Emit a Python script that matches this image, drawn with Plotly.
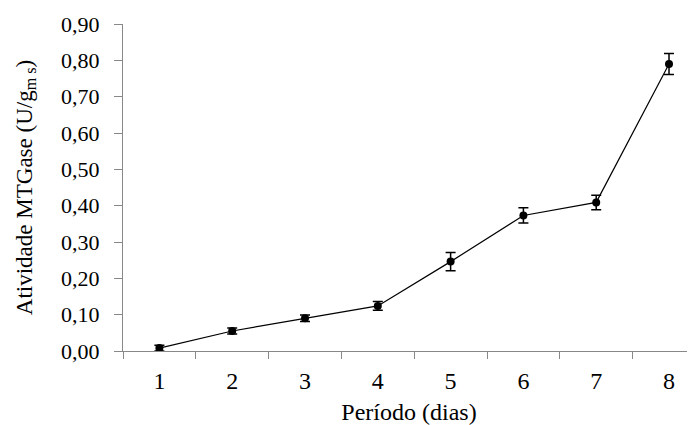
import plotly.graph_objects as go

periodo = ["1", "2", "3", "4", "5", "6", "7", "8"]
atividade = [0.008, 0.055, 0.090, 0.124, 0.246, 0.373, 0.409, 0.790]
erro = [0.008, 0.008, 0.009, 0.012, 0.025, 0.021, 0.020, 0.029]
y_ticks = [0.0, 0.1, 0.2, 0.3, 0.4, 0.5, 0.6, 0.7, 0.8, 0.9]
y_tick_text = ["0,00", "0,10", "0,20", "0,30", "0,40", "0,50", "0,60", "0,70", "0,80", "0,90"]

font_family = "Liberation Serif"

fig = go.Figure()
fig.add_trace(go.Scatter(
    x=periodo, y=atividade,
    mode="lines+markers",
    line=dict(color="black", width=1.2),
    marker=dict(color="black", size=8),
    error_y=dict(type="data", array=erro, visible=True, color="black", thickness=1.5, width=5),
    showlegend=False,
))

fig.update_layout(
    width=687, height=417,
    margin=dict(l=115, r=0, t=16, b=74),
    paper_bgcolor="white", plot_bgcolor="white",
    font=dict(family=font_family, size=23, color="black"),
    xaxis=dict(
        type="category",
        range=[-0.5, 7.357],
        tickson="boundaries",
        ticks="outside", ticklen=7, tickcolor="#888888", tickwidth=1,
        showline=True, linecolor="#888888", linewidth=1,
        showgrid=False, zeroline=False,
        tickfont=dict(family=font_family, size=24),
        ticklabelstandoff=8,
        title=dict(text="Período (dias)", font=dict(family=font_family, size=24), standoff=15),
    ),
    yaxis=dict(
        range=[0, 0.9],
        tickvals=y_ticks, ticktext=y_tick_text,
        ticks="outside", ticklen=8, tickcolor="#888888", tickwidth=1,
        showline=True, linecolor="#888888", linewidth=1,
        showgrid=False, zeroline=False,
        tickfont=dict(family=font_family, size=22),
        ticklabelstandoff=10,
        title=dict(text="Atividade MTGase (U/g<sub>m s</sub>)", font=dict(family=font_family, size=23), standoff=22),
    ),
)

fig.write_html("out.html")
